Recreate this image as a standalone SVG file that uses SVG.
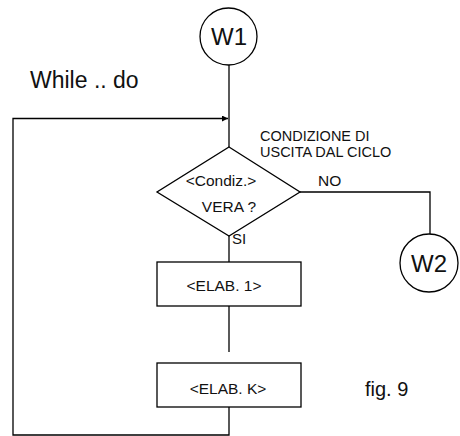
<svg xmlns="http://www.w3.org/2000/svg" width="460" height="436" viewBox="0 0 460 436">
<defs>
<style>
.s{fill:none;stroke:#000;stroke-width:1.3}
.n{fill:#fff;stroke:#000;stroke-width:1.3}
text{font-family:"Liberation Sans",Arial,sans-serif;fill:#111}
.c{text-anchor:middle}
</style>
<marker id="ah" viewBox="0 0 10 10" refX="10" refY="5" markerWidth="7" markerHeight="6" orient="auto" markerUnits="userSpaceOnUse">
<path d="M0,0 L10,5 L0,10 z" fill="#000"/>
</marker>
</defs>
<rect width="460" height="436" fill="#fff"/>
<g id="connectors">
<path class="s" d="M229,65 V147"/>
<path class="s" d="M229,236 V262"/>
<path class="s" d="M229,306 V352"/>
<path class="s" d="M300,192 H430 V234"/>
<path class="s" d="M229,407 V435 H13 V118.5 H228" marker-end="url(#ah)"/>
</g>
<g id="W1">
<circle class="n" cx="228.5" cy="36.5" r="28.5"/>
<text class="c" x="229" y="45" font-size="24">W1</text>
</g>
<g id="title">
<text x="30" y="88" font-size="23">While .. do</text>
</g>
<g id="note">
<text x="260" y="141" font-size="14.5">CONDIZIONE DI</text>
<text x="260" y="157" font-size="14.5">USCITA DAL CICLO</text>
</g>
<g id="cond">
<polygon class="n" points="229,147 300,192 229,236 157,192"/>
<text class="c" x="221" y="186" font-size="15.5">&lt;Condiz.&gt;</text>
<text class="c" x="229" y="212" font-size="15.5">VERA ?</text>
</g>
<g id="labels">
<text x="318" y="186" font-size="15.5">NO</text>
<text x="232" y="244" font-size="15">SI</text>
</g>
<g id="W2">
<circle class="n" cx="429" cy="263" r="29"/>
<text class="c" x="429" y="272" font-size="24">W2</text>
</g>
<g id="elab1">
<rect class="n" x="157" y="262" width="144" height="44"/>
<text class="c" x="224" y="291" font-size="15.5">&lt;ELAB. 1&gt;</text>
</g>
<g id="elabK">
<rect class="n" x="157" y="363" width="144" height="44"/>
<text class="c" x="228" y="394" font-size="15.5">&lt;ELAB. K&gt;</text>
</g>
<g id="fig">
<text x="365" y="396" font-size="20">fig. 9</text>
</g>
</svg>
